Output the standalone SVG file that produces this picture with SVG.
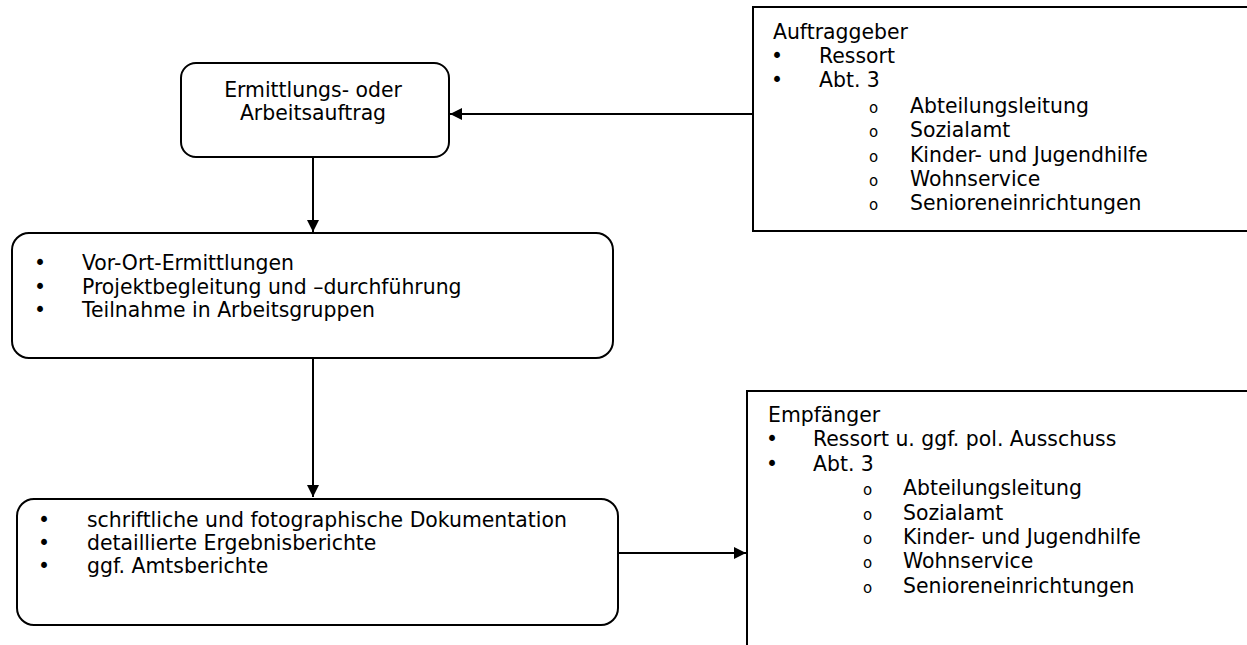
<svg xmlns="http://www.w3.org/2000/svg" width="1247" height="645" viewBox="0 0 1247 645">
<style>
.box{fill:#fff;stroke:#000;stroke-width:2}
.t{font-family:"DejaVu Sans",Verdana,sans-serif;font-size:20.4px;fill:#000}
.c{text-anchor:middle}
.o{font-family:"DejaVu Sans",sans-serif;font-size:15px;fill:#000}
.ln{stroke:#000;stroke-width:2;fill:none}
</style>
<defs>
<marker id="ah" viewBox="0 0 10 10" refX="10" refY="5" markerWidth="12" markerHeight="12" markerUnits="userSpaceOnUse" orient="auto">
<path d="M0,0 L10,5 L0,10 Z" fill="#000"/>
</marker>
</defs>
<g id="connectors">
<line class="ln" x1="753" y1="114" x2="450" y2="114" marker-end="url(#ah)"/>
<line class="ln" x1="313" y1="158" x2="313" y2="232" marker-end="url(#ah)"/>
<line class="ln" x1="313" y1="359" x2="313" y2="497" marker-end="url(#ah)"/>
<line class="ln" x1="619" y1="553" x2="746" y2="553" marker-end="url(#ah)"/>
</g>
<g id="auftrag">
<rect class="box" x="181" y="63" width="268" height="94" rx="15"/>
<text class="t c" x="313" y="97">Ermittlungs- oder</text>
<text class="t c" x="313" y="120">Arbeitsauftrag</text>
</g>
<g id="ermittlung">
<rect class="box" x="12" y="233" width="601" height="125" rx="17"/>
<text class="t" x="34" y="270">•</text><text class="t" x="82" y="270">Vor-Ort-Ermittlungen</text>
<text class="t" x="34" y="294">•</text><text class="t" x="82" y="294">Projektbegleitung und –durchführung</text>
<text class="t" x="34" y="317">•</text><text class="t" x="82" y="317">Teilnahme in Arbeitsgruppen</text>
</g>
<g id="dokumentation">
<rect class="box" x="17" y="499" width="601" height="126" rx="17"/>
<text class="t" x="38" y="527">•</text><text class="t" x="87" y="527">schriftliche und fotographische Dokumentation</text>
<text class="t" x="38" y="550">•</text><text class="t" x="87" y="550">detaillierte Ergebnisberichte</text>
<text class="t" x="38" y="573">•</text><text class="t" x="87" y="573">ggf. Amtsberichte</text>
</g>
<g id="auftraggeber">
<rect class="box" x="753" y="7" width="510" height="224"/>
<text class="t" x="773" y="39">Auftraggeber</text>
<text class="t" x="771" y="63">•</text><text class="t" x="819" y="63">Ressort</text>
<text class="t" x="771" y="87">•</text><text class="t" x="819" y="87">Abt. 3</text>
<text class="o" x="869" y="113">o</text><text class="t" x="910" y="113">Abteilungsleitung</text>
<text class="o" x="869" y="137">o</text><text class="t" x="910" y="137">Sozialamt</text>
<text class="o" x="869" y="161.5">o</text><text class="t" x="910" y="161.5">Kinder- und Jugendhilfe</text>
<text class="o" x="869" y="186">o</text><text class="t" x="910" y="186">Wohnservice</text>
<text class="o" x="869" y="210">o</text><text class="t" x="910" y="210">Senioreneinrichtungen</text>
</g>
<g id="empfaenger">
<rect class="box" x="747" y="391" width="520" height="300"/>
<text class="t" x="768" y="422">Empfänger</text>
<text class="t" x="766" y="446.4">•</text><text class="t" x="813" y="446.4">Ressort u. ggf. pol. Ausschuss</text>
<text class="t" x="766" y="470.8">•</text><text class="t" x="813" y="470.8">Abt. 3</text>
<text class="o" x="863" y="495.2">o</text><text class="t" x="903" y="495.2">Abteilungsleitung</text>
<text class="o" x="863" y="519.6">o</text><text class="t" x="903" y="519.6">Sozialamt</text>
<text class="o" x="863" y="544">o</text><text class="t" x="903" y="544">Kinder- und Jugendhilfe</text>
<text class="o" x="863" y="568.4">o</text><text class="t" x="903" y="568.4">Wohnservice</text>
<text class="o" x="863" y="592.8">o</text><text class="t" x="903" y="592.8">Senioreneinrichtungen</text>
</g>
</svg>
